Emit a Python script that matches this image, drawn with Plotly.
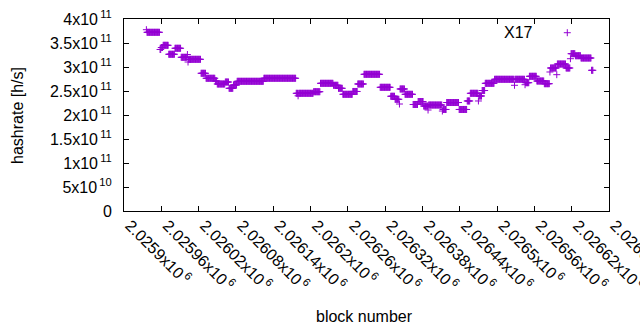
import plotly.graph_objects as go

# ---- data ----
BASE_BLOCK = 2025900
# runs of consecutive blocks sharing the same hashrate (block offsets from BASE_BLOCK, inclusive)
run_start = [36, 37, 58, 60, 63, 72, 82, 92, 102, 103, 104, 124, 132, 147, 150, 163, 169, 176,
             182, 225, 277, 280, 281, 305, 316, 337, 345, 352, 368, 376, 386, 412, 429, 436, 443,
             444, 452, 465, 473, 482, 489, 490, 512, 513, 519, 539, 552, 557, 570, 571, 576, 581,
             596, 628, 629, 645, 646, 652, 664, 676, 685, 686, 696, 697, 711, 718, 719, 726, 735,
             752]
run_end = [36, 57, 59, 62, 71, 81, 91, 101, 102, 103, 123, 131, 146, 149, 162, 168, 175, 181,
           224, 276, 279, 280, 304, 315, 336, 344, 351, 367, 375, 385, 411, 428, 435, 442, 443,
           451, 464, 472, 481, 488, 489, 511, 512, 518, 538, 551, 556, 569, 570, 575, 580, 595,
           627, 628, 644, 645, 651, 663, 675, 684, 685, 695, 696, 710, 717, 718, 725, 734, 751,
           754]
# hashrate in GH/s (1e9 h/s)
run_value = [377.7, 372.3, 336.5, 340.6, 345.2, 326.5, 339.0, 320.2, 326.0, 310.4, 316.0, 286.9,
             276.5, 270.8, 264.6, 268.7, 255.6, 262.5, 270.2, 276.5, 245.2, 240.0, 245.2, 248.5,
             266.0, 261.9, 255.6, 243.1, 249.0, 264.6, 284.8, 257.7, 239.0, 232.7, 222.9, 254.2,
             243.1, 221.9, 228.1, 218.7, 210.4, 220.8, 208.3, 211.5, 226.0, 211.5, 229.2, 245.2,
             229.2, 239.6, 251.0, 266.0, 274.4, 261.9, 274.4, 263.1, 267.3, 280.6, 270.8, 265.2,
             289.6, 297.9, 284.0, 306.2, 297.9, 317.3, 327.7, 323.5, 318.7, 293.1]

x_tick_vals = [2025900 + 60 * i for i in range(14)]
x_tick_text = ["2.0259x10", "2.02596x10", "2.02602x10", "2.02608x10", "2.02614x10", "2.0262x10",
               "2.02626x10", "2.02632x10", "2.02638x10", "2.02644x10", "2.0265x10", "2.02656x10",
               "2.02662x10", "2.02668x10"]
x_tick_exp = "6"
y_tick_vals = [0, 5e10, 1e11, 1.5e11, 2e11, 2.5e11, 3e11, 3.5e11, 4e11]
y_tick_mant = ["0", "5x10", "1x10", "1.5x10", "2x10", "2.5x10", "3x10", "3.5x10", "4x10"]
y_tick_exp = ["", "10", "11", "11", "11", "11", "11", "11", "11"]

series_name = "X17"
COLOR = "#9400D3"
FONT = "Liberation Sans"
FS = 16

# expand runs to one point per block
blocks, values = [], []
for s, e, v in zip(run_start, run_end, run_value):
    for b in range(s, e + 1):
        blocks.append(BASE_BLOCK + b)
        values.append(v * 1e9)

fig = go.Figure()
fig.add_trace(go.Scatter(
    x=blocks, y=values, mode="markers", name=series_name, showlegend=False,
    marker=dict(symbol="cross-thin", size=5, color=COLOR, line=dict(color=COLOR, width=1)),
))

xt = [t + "<sup>\u2009" + x_tick_exp + "</sup>" for t in x_tick_text]
yt = [m if not e else m + "<sup>\u2009" + e + "</sup>" for m, e in zip(y_tick_mant, y_tick_exp)]

axis_common = dict(showline=True, linecolor="black", linewidth=1, mirror="ticks",
                   ticks="inside", ticklen=5, tickcolor="black", tickwidth=1,
                   showgrid=False, zeroline=False, automargin=False,
                   ticklabeloverflow="allow",
                   tickfont=dict(family=FONT, size=FS, color="black"))

fig.update_layout(
    width=640, height=330,
    margin=dict(l=124, r=31, t=19, b=119),
    plot_bgcolor="white", paper_bgcolor="white",
    xaxis=dict(range=[2025900, 2026680], tickmode="array", tickvals=x_tick_vals, ticktext=xt,
               tickangle=45, ticklabelstandoff=-2, ticklabelshift=6, **axis_common),
    yaxis=dict(range=[0, 4e11], tickmode="array", tickvals=y_tick_vals, ticktext=yt,
               ticklabelstandoff=8, **axis_common),
    showlegend=False,
    annotations=[
        dict(text="block number", xref="paper", yref="paper", x=0.495, y=-0.549,
             xanchor="center", yanchor="middle", showarrow=False,
             font=dict(family=FONT, size=FS, color="black")),
        dict(text="hashrate [h/s]", xref="paper", yref="paper", x=-0.2185, y=0.495,
             xanchor="center", yanchor="middle", showarrow=False, textangle=-90,
             font=dict(family=FONT, size=FS, color="black")),
        dict(text=series_name, xref="paper", yref="paper", x=0.8465, y=0.932,
             xanchor="right", yanchor="middle", showarrow=False,
             font=dict(family=FONT, size=FS, color="black")),
    ],
    shapes=[
        dict(type="line", xref="paper", yref="paper", x0=0.9068, x1=0.9212, y0=0.9286, y1=0.9286,
             line=dict(color=COLOR, width=1)),
        dict(type="line", xref="paper", yref="paper", x0=0.914, x1=0.914, y0=0.9104, y1=0.9469,
             line=dict(color=COLOR, width=1)),
    ],
)

fig.write_html("out.html", config={"displayModeBar": False},
               post_script="document.body.style.margin='0';")
